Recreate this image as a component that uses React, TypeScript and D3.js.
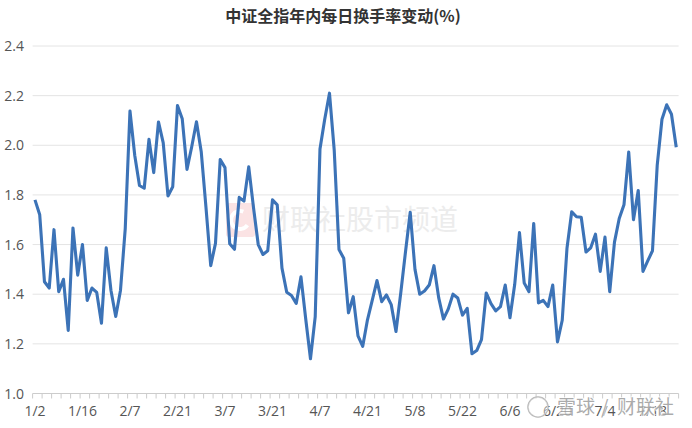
import React from "react";
import * as d3 from "d3";

const title = "中证全指年内每日换手率变动(%)";
const tickLabels = ["1/2","1/16","2/7","2/21","3/7","3/21","4/7","4/21","5/8","5/22","6/6","6/20","7/4","7/18"];
const yTicks = [1.0,1.2,1.4,1.6,1.8,2.0,2.2,2.4];
const turnover = [
  1.78,1.72,1.45,1.425,1.66,1.41,1.46,1.254,1.667,1.477,
  1.60,1.375,1.425,1.407,1.283,1.587,1.415,1.31,1.415,1.663,
  2.138,1.96,1.838,1.827,2.024,1.89,2.094,2.01,1.796,1.833,
  2.16,2.107,1.903,1.994,2.095,1.974,1.75,1.515,1.605,1.943,
  1.91,1.603,1.581,1.79,1.775,1.913,1.75,1.60,1.56,1.575,
  1.78,1.76,1.505,1.408,1.395,1.363,1.47,1.30,1.14,1.31,
  1.985,2.105,2.21,1.98,1.58,1.545,1.325,1.39,1.232,1.19,
  1.297,1.375,1.455,1.37,1.397,1.358,1.25,1.404,1.57,1.73,
  1.50,1.40,1.413,1.437,1.515,1.385,1.30,1.34,1.40,1.385,
  1.316,1.343,1.16,1.173,1.217,1.405,1.362,1.333,1.35,1.437,
  1.305,1.44,1.648,1.445,1.41,1.685,1.365,1.375,1.35,1.437,
  1.208,1.295,1.585,1.732,1.712,1.71,1.57,1.587,1.642,1.492,
  1.63,1.41,1.61,1.705,1.76,1.973,1.70,1.818,1.492,1.534,
  1.575,1.92,2.105,2.163,2.125,1.992,
];

const W = 692, H = 428;
const font = "'Open Sans', 'Noto Sans CJK SC', sans-serif";
const cjk = "'Noto Sans CJK SC', sans-serif";

export default function App() {
  const idx = turnover.map((_, i) => i);
  const x = d3.scaleBand<number>().domain(idx).range([32.6, 678.6]);
  const y = d3.scaleLinear().domain([1.0, 2.4]).range([393.5, 46]);
  const line = d3.line<number>()
    .x((_, i) => (x(i) as number) + x.bandwidth() / 2)
    .y((d) => y(d));
  const tickIdx = idx.filter((i) => i % 2 === 0);
  return (
    <svg width={W} height={H} viewBox={`0 0 ${W} ${H}`}
      style={{ position: "absolute", left: 0, top: 0, display: "block", background: "#fff" }}>
      <text x={343} y={22} textAnchor="middle" fontFamily={cjk} fontWeight={700} fontSize={16} fill="#333">{title}</text>

      {yTicks.slice(1).map((t) => (
        <line key={t} x1={32.6} x2={678.6} y1={y(t)} y2={y(t)} stroke="#e4e4e4" strokeWidth={1} />
      ))}

      <rect x={226} y={203} width={29} height={34} rx={3} fill="#fbe3e4" />
      <circle cx={240} cy={220} r={9} fill="none" stroke="#fff" strokeWidth={4} strokeDasharray="40 17" transform="rotate(35 240 220)" />
      <text x={262} y={230} fontFamily={cjk} fontSize={28} fill="#ececec">财联社股市频道</text>

      <line x1={32.6} x2={678.6} y1={y(1)} y2={y(1)} stroke="#ccc" strokeWidth={1} />
      {tickIdx.map((i) => (
        <line key={i} x1={x(i) as number} x2={x(i) as number} y1={y(1)} y2={y(1) + 5} stroke="#ccc" strokeWidth={1} />
      ))}
      <line x1={678.6} x2={678.6} y1={y(1)} y2={y(1) + 5} stroke="#ccc" strokeWidth={1} />

      {yTicks.map((t) => (
        <text key={t} x={24} y={y(t) + 5} textAnchor="end" fontFamily={font} fontSize={14} fill="#555">{t.toFixed(1)}</text>
      ))}
      {tickLabels.map((l, k) => (
        <text key={l} x={(x(k * 10) as number) + x.bandwidth() / 2} y={416} textAnchor="middle" fontFamily={font} fontSize={14} fill="#555">{l}</text>
      ))}

      <path d={line(turnover) as string} fill="none" stroke="#3c73b7" strokeWidth={3.1} strokeLinejoin="round" />

      <g fontFamily={cjk} fontSize={19} fill="#8f8f8f" fillOpacity={0.75} stroke="#fff" strokeOpacity={0.7} strokeWidth={2} paintOrder="stroke">
        <circle cx={538} cy={407} r={10} fill="#fff" fillOpacity={0.4} stroke="#b5b5b5" strokeWidth={1.5} strokeOpacity={1} />
        <text x={557} y={414}>雪球</text>
        <text x={601} y={414}>/</text>
        <text x={617} y={414}>财联社</text>
      </g>
    </svg>
  );
}
